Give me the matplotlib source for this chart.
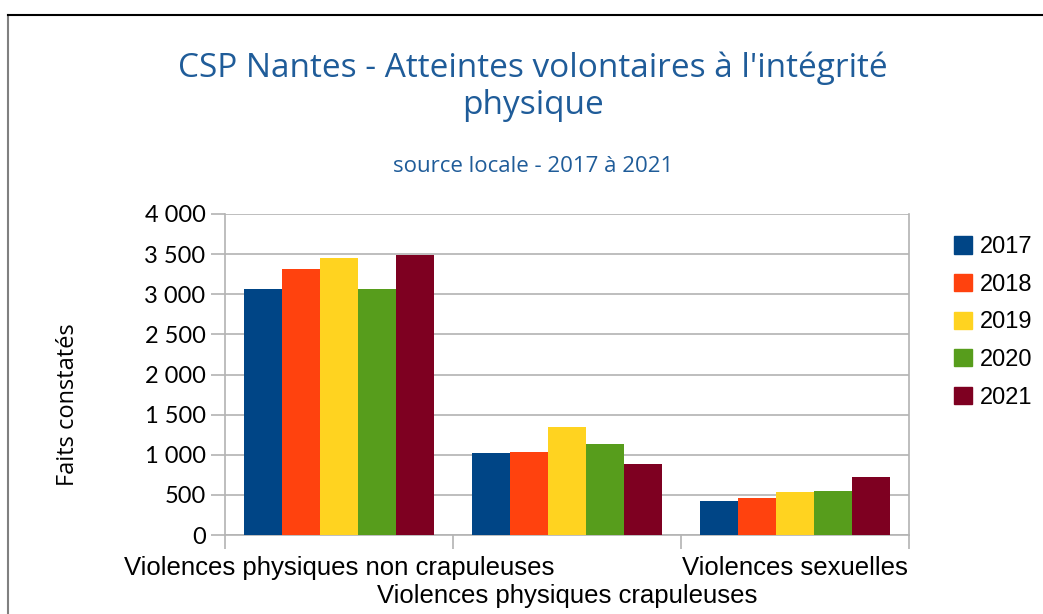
import numpy as np
import matplotlib.pyplot as plt
from matplotlib.lines import Line2D
from matplotlib.patches import Patch

categories = ["Violences physiques non crapuleuses",
              "Violences physiques crapuleuses",
              "Violences sexuelles"]
years = ["2017", "2018", "2019", "2020", "2021"]
v2017 = [3070, 1020, 425]
v2018 = [3310, 1040, 462]
v2019 = [3450, 1340, 537]
v2020 = [3070, 1130, 550]
v2021 = [3485, 880, 725]
colors = ["#004586", "#ff420e", "#ffd320", "#579d1c", "#7e0021"]

W, H = 1043, 614
fig = plt.figure(figsize=(W / 100, H / 100), dpi=100)
ax = fig.add_axes([225 / W, 1 - 535 / H, (909 - 225) / W, (535 - 214) / H])

x = np.arange(len(categories))
bw = 1 / 6
series = [v2017, v2018, v2019, v2020, v2021]
for i, (vals, c) in enumerate(zip(series, colors)):
    ax.bar(x + (i - 2) * bw, vals, bw, color=c, zorder=3, label=years[i])

ax.set_xlim(-0.5, 2.5)
ax.set_ylim(0, 4000)
ax.set_yticks(range(0, 4001, 500))
ax.set_yticklabels([f"{v:,}".replace(",", " ") for v in range(0, 4001, 500)],
                   fontsize=17, family="Lato")
ax.grid(axis="y", color="#b3b3b3", lw=1.2, zorder=0)

# category boundaries ticks, labels at centers (staggered on two rows)
ax.set_xticks([-0.5, 0.5, 1.5, 2.5])
ax.set_xticklabels([])
ax.set_xticks(x, minor=True)
ax.set_xticklabels([categories[0], "\n" + categories[1], categories[2]],
                   minor=True, fontsize=18.5, family="Liberation Sans",
                   linespacing=1.2)
ax.tick_params(axis="x", which="minor", length=0, pad=15)
ax.tick_params(axis="x", which="major", length=10, color="#b3b3b3", width=1.2)
ax.tick_params(axis="y", length=10, color="#b3b3b3", width=1.2, pad=4)
for s in ax.spines.values():
    s.set_color("#b3b3b3")
    s.set_linewidth(1.2)
ax.spines["top"].set_visible(False)

ax.set_ylabel("Faits constatés", fontsize=17, family="Open Sans")
ax.yaxis.set_label_coords((80 - 225) / 684, 0.405)

fig.text(533 / W, 1 - 68 / H, "CSP Nantes - Atteintes volontaires à l'intégrité",
         ha="center", va="center", fontsize=24, color="#1f5c99", family="Open Sans")
fig.text(533 / W, 1 - 105 / H, "physique",
         ha="center", va="center", fontsize=24, color="#1f5c99", family="Open Sans")
fig.text(533 / W, 1 - 167 / H, "source locale - 2017 à 2021",
         ha="center", va="center", fontsize=16, color="#1f5c99", family="Open Sans")

handles = [Patch(color=c) for c in colors]
fig.legend(handles, years, loc="upper left", bbox_to_anchor=(933 / W, 1 - 215 / H),
           frameon=False, handlelength=0.75, handleheight=0.75,
           handletextpad=0.35, labelspacing=0.66,
           prop={"family": "Liberation Sans", "size": 17})

# outer frame of the chart
fig.add_artist(Line2D([8 / W, 8 / W], [0, 1 - 15 / H], color="#808080", lw=1.5))
fig.add_artist(Line2D([8 / W, 1], [1 - 15 / H, 1 - 15 / H], color="black", lw=1.5))

fig.savefig("out.png", dpi=100)
